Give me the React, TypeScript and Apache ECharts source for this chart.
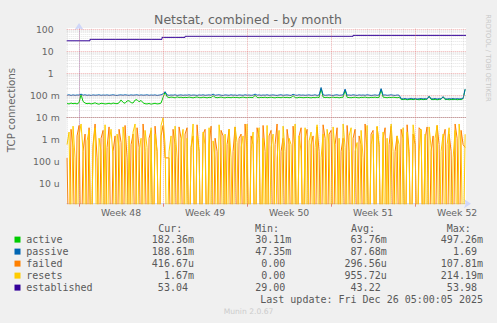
import React, { useEffect, useRef } from 'react';
import * as echarts from 'echarts';

// sampling: x in days since Mon 24 Nov (start of Week 48), one sample every 4 h
const X0 = -1;
const STEP = 1 / 6;
const X_MIN = -1.03;
const X_MAX = 32.24;

// active connections (milli)
const activeM = [
  42, 40, 44, 41, 43, 40, 46, 108, 52, 44, 41, 43, 40, 42, 45, 41, 39, 43, 42, 40,
  41, 43, 40, 44, 42, 41, 45, 61, 47, 43, 55, 56, 46, 44, 60, 62, 50, 58, 45, 41,
  40, 42, 39, 41, 43, 40, 41, 44, 80, 140, 85, 78, 82, 80, 76, 84, 79, 81, 77, 80,
  78, 82, 79, 76, 80, 83, 78, 77, 81, 79, 76, 80, 78, 95, 80, 77, 79, 82, 78, 76,
  80, 79, 77, 81, 78, 80, 76, 79, 82, 78, 77, 80, 79, 78, 100, 79, 77, 80, 78, 81,
  77, 79, 81, 78, 76, 80, 79, 77, 82, 78, 80, 77, 79, 95, 78, 76, 80, 79, 77, 78,
  80, 78, 76, 79, 77, 81, 78, 200, 82, 78, 80, 77, 79, 82, 78, 80, 76, 79, 81, 170,
  80, 78, 77, 79, 81, 78, 76, 80, 79, 82, 78, 77, 80, 79, 81, 78, 80, 180, 82, 79,
  77, 80, 78, 81, 79, 77, 80, 65, 63, 66, 62, 64, 65, 63, 66, 64, 62, 65, 63, 64,
  66, 88, 64, 63, 65, 62, 64, 66, 84, 63, 65, 62, 64, 63, 66, 62, 64, 63, 70, 182,
];

// passive connections (milli)
const passiveM = [
  100, 104, 98, 103, 99, 102, 101, 112, 100, 104, 99, 102, 98, 103, 100, 101, 104, 99, 102, 100,
  103, 99, 101, 104, 100, 98, 102, 103, 100, 104, 101, 99, 103, 100, 102, 104, 99, 103, 100, 101,
  104, 99, 102, 100, 103, 98, 101, 104, 115, 145, 103, 99, 102, 100, 104, 98, 101, 103, 99, 102,
  100, 104, 99, 102, 101, 98, 103, 100, 104, 99, 101, 103, 100, 112, 99, 102, 104, 100, 98, 103,
  101, 99, 104, 100, 102, 98, 103, 101, 99, 104, 100, 102, 99, 101, 112, 100, 103, 99, 102, 100,
  104, 99, 101, 103, 100, 98, 102, 104, 99, 101, 103, 100, 98, 110, 101, 99, 104, 100, 102, 99,
  101, 103, 99, 100, 104, 98, 102, 224, 104, 99, 101, 103, 100, 98, 102, 104, 99, 101, 103, 190,
  100, 102, 99, 104, 101, 98, 103, 100, 102, 99, 104, 101, 98, 100, 103, 99, 102, 200, 100, 103,
  99, 101, 104, 100, 98, 102, 100, 70, 68, 71, 67, 69, 72, 68, 70, 67, 69, 71, 68, 70,
  67, 90, 69, 68, 71, 67, 70, 68, 86, 69, 67, 70, 68, 71, 67, 70, 68, 69, 72, 189,
];

// failed connections (micro)
const failedU = [
  140, 0, 2800, 420, 0, 1400, 4200, 0, 280, 1700, 0, 3300, 0, 560, 4900, 140, 0, 1100, 2500, 0,
  420, 3600, 0, 280, 1400, 0, 2800, 700, 0, 4200, 140, 0, 560, 1700, 0, 3300, 420, 0, 4900, 280,
  0, 1100, 2500, 0, 3900, 280, 0, 1400, 4200, 140, 140, 140, 0, 2800, 560, 0, 3600, 1100, 0, 1700,
  3300, 0, 420, 1400, 0, 4500, 280, 0, 1700, 2800, 0, 560, 3900, 0, 1100, 280, 0, 2500, 1400, 0,
  560, 2800, 0, 280, 3600, 0, 1100, 1700, 0, 4900, 280, 0, 1400, 560, 0, 3300, 1100, 0, 4200, 280,
  0, 1400, 2500, 0, 560, 4900, 0, 280, 1100, 0, 2800, 560, 0, 3900, 280, 0, 1400, 3300, 0, 1100,
  2800, 0, 560, 1400, 0, 3600, 280, 0, 4500, 1100, 0, 1700, 2500, 0, 560, 3300, 0, 280, 1100, 0,
  4200, 280, 0, 1100, 2800, 0, 1400, 560, 0, 4900, 280, 0, 1700, 2500, 0, 3600, 560, 0, 1100, 3300,
  0, 560, 3900, 0, 280, 1400, 0, 2800, 1100, 0, 4500, 280, 0, 1700, 560, 0, 3300, 2500, 0, 1100,
  3600, 0, 280, 1400, 0, 4200, 560, 0, 1100, 2800, 0, 1700, 280, 0, 4900, 1100, 0, 2500, 560, 417,
];

// connection resets (micro)
const resetsU = [
  560, 2100, 0, 3900, 140, 0, 1400, 4900, 280, 0, 830, 2500, 0, 420, 3300, 0, 1100, 280, 0, 4500,
  0, 700, 2800, 140, 0, 1700, 420, 0, 3600, 560, 0, 1400, 0, 2100, 4900, 0, 280, 1100, 0, 2500,
  420, 0, 3300, 0, 1700, 280, 0, 4200, 9500, 560, 0, 280, 1400, 0, 3900, 140, 0, 700, 2800, 0,
  1100, 0, 420, 4900, 0, 1400, 280, 0, 2100, 560, 0, 3300, 0, 830, 140, 0, 4500, 420, 0, 1700,
  0, 2800, 140, 0, 3600, 700, 0, 420, 1400, 0, 4900, 0, 280, 2100, 0, 560, 3300, 0, 1100, 0,
  4200, 0, 420, 1700, 0, 140, 2500, 0, 3900, 280, 0, 1100, 560, 0, 4900, 0, 1400, 280, 0, 3300,
  0, 830, 2100, 0, 420, 4500, 0, 140, 1700, 0, 2800, 560, 0, 3600, 280, 0, 1100, 0, 4900, 420,
  0, 1400, 3300, 0, 280, 700, 0, 2500, 140, 0, 4200, 0, 560, 1700, 0, 3900, 420, 0, 2100, 0,
  1100, 0, 4900, 280, 0, 1400, 560, 0, 3300, 0, 2100, 140, 0, 4500, 700, 0, 280, 2800, 0, 1700,
  0, 3600, 420, 0, 1100, 4200, 0, 280, 1700, 0, 560, 3300, 0, 140, 2500, 0, 4900, 420, 0, 1670,
];

// established connections: level changes (day, value)
const estDays = [X_MIN, 0.91, 6.91, 8.83, 22.83, X_MAX];
const estValues = [30, 35, 43, 48, 53, 53];

// axis texts
const weekCenters = [3.5, 10.5, 17.5, 24.5, 31.5];
const weekLabels = ['Week 48', 'Week 49', 'Week 50', 'Week 51', 'Week 52'];
const weekStarts = [0, 7, 14, 21, 28];
const decadeValues = [1e-5, 1e-4, 1e-3, 1e-2, 1e-1, 1, 10, 100];
const decadeLabels = ['10 u', '100 u', '1 m', '10 m', '100 m', '1', '10', '100'];

// legend
const legendNames = ['active', 'passive', 'failed', 'resets', 'established'];
const legendColors = ['#00CC00', '#0066B3', '#FF8000', '#FFCC00', '#330099'];
const curText = ['182.36m', '188.61m', '416.67u', '1.67m', '53.04'];
const minText = ['30.11m', '47.35m', '0.00', '0.00', '29.00'];
const avgText = ['63.76m', '87.68m', '296.56u', '955.72u', '43.22'];
const maxText = ['497.26m', '1.69', '107.81m', '214.19m', '53.98'];

const FLOOR = 1e-9; // stand-in for zero on the log axis (drawn below the plot, clipped)

export default function App() {
  const ref = useRef<HTMLDivElement>(null);

  useEffect(() => {
    const chart = echarts.init(ref.current!, null, { renderer: 'svg' });

    const pts = (arr: number[], scale: number) =>
      arr.map((v, i) => [X0 + i * STEP, v === 0 ? FLOOR : v * scale]);

    const Y_MIN = Math.pow(10, -5.94);
    const Y_MAX = Math.pow(10, 2.06);

    const minorGrid = 'rgba(150,150,150,0.26)';
    const majorGrid = 'rgba(225,110,110,0.55)';
    const gridLines: any[] = [];
    for (let d = -1; d <= 32; d++) {
      if (weekStarts.indexOf(d) >= 0) continue;
      gridLines.push({ xAxis: d, lineStyle: { color: minorGrid, type: 'dotted', width: 1 } });
    }
    for (let k = -6; k <= 1; k++) {
      for (let m = 2; m <= 9; m++) {
        const v = m * Math.pow(10, k);
        if (v > Y_MIN && v < Y_MAX) {
          gridLines.push({ yAxis: v, lineStyle: { color: minorGrid, type: 'dotted', width: 1 } });
        }
      }
    }
    weekStarts.forEach((d) =>
      gridLines.push({ xAxis: d, lineStyle: { color: majorGrid, type: 'dotted', width: 1 } })
    );
    decadeValues.forEach((v) =>
      gridLines.push({ yAxis: v, lineStyle: { color: majorGrid, type: 'dotted', width: 1 } })
    );

    const font = 'DejaVu Sans';
    const mono = 'DejaVu Sans Mono';
    const textColor = '#666666';
    const legendColor = '#595959';

    const graphics: any[] = [];
    const txt = (x: number, y: number, text: string, opts: any = {}) => ({
      type: 'text',
      x,
      y,
      rotation: opts.rotation || 0,
      silent: true,
      style: {
        text,
        fill: opts.fill || legendColor,
        fontSize: opts.fontSize || 10,
        fontFamily: opts.fontFamily || mono,
        align: opts.align || 'left',
        textAlign: opts.align || 'left',
        verticalAlign: 'middle',
        textVerticalAlign: 'middle',
      },
    });

    graphics.push(txt(248, 19, 'Netstat, combined - by month', { fontSize: 12.5, fontFamily: font, fill: textColor, align: 'center' }));
    graphics.push(txt(11, 110, 'TCP connections', { fontSize: 10.3, fontFamily: font, fill: textColor, align: 'center', rotation: Math.PI / 2 }));
    graphics.push(txt(488, 58, 'RRDTOOL / TOBI OETIKER', { fontSize: 6.8, fontFamily: font, fill: '#C8C8C8', align: 'center', rotation: -Math.PI / 2 }));
    graphics.push(txt(248.5, 311.5, 'Munin 2.0.67', { fontSize: 7.6, fontFamily: font, fill: '#CCCCCC', align: 'center' }));

    const headerY = 228.3;
    graphics.push(txt(158.3, headerY, 'Cur:'));
    graphics.push(txt(255, headerY, 'Min:'));
    graphics.push(txt(351, headerY, 'Avg:'));
    graphics.push(txt(446.7, headerY, 'Max:'));
    const colRight = [194, 291.3, 386.7, 483];
    const cols = [curText, minText, avgText, maxText];
    legendNames.forEach((name, r) => {
      const y = 239.6 + r * 12;
      graphics.push({
        type: 'rect',
        silent: true,
        shape: { x: 14.5, y: y - 3, width: 6, height: 6 },
        style: { fill: legendColors[r] },
      });
      graphics.push(txt(26.3, y, name));
      cols.forEach((col, c) => {
        const s = col[r];
        const unitless = /[0-9]$/.test(s);
        graphics.push(txt(colRight[c] - (unitless ? 6.02 : 0), y, s, { align: 'right' }));
      });
    });
    graphics.push(txt(483, 299.7, 'Last update: Fri Dec 26 05:00:05 2025', { align: 'right' }));

    const lineSeries = (name: string, color: string, data: any[], extra: any = {}) => ({
      name,
      type: 'line',
      data,
      showSymbol: false,
      symbol: 'none',
      z: 3,
      clip: true,
      lineStyle: { color, width: 1 },
      itemStyle: { color },
      emphasis: { disabled: true },
      silent: true,
      ...extra,
    });

    const option: any = {
      animation: false,
      backgroundColor: '#F0F0F0',
      grid: {
        left: 66.7,
        top: 28,
        width: 399.3,
        height: 175.7,
        show: true,
        backgroundColor: '#FFFFFF',
        borderWidth: 0,
        containLabel: false,
        outerBoundsMode: 'none',
      },
      xAxis: {
        type: 'value',
        min: X_MIN,
        max: X_MAX,
        axisLine: {
          show: true,
          onZero: false,
          lineStyle: { color: '#CFD6F8', width: 1 },
          symbol: ['none', 'arrow'],
          symbolSize: [7, 7],
          symbolOffset: [0, 5],
        },
        axisTick: {
          show: true,
          customValues: weekStarts,
          length: 3,
          lineStyle: { color: '#E08080', width: 1 },
        },
        axisLabel: {
          customValues: weekCenters,
          formatter: (v: number) => {
            const i = weekCenters.findIndex((c) => Math.abs(c - v) < 1e-6);
            return i >= 0 ? weekLabels[i] : '';
          },
          color: textColor,
          fontSize: 9.3,
          fontFamily: font,
          margin: 4,
        },
        splitLine: { show: false },
      },
      yAxis: {
        type: 'log',
        logBase: 10,
        min: Y_MIN,
        max: Y_MAX,
        axisLine: {
          show: true,
          lineStyle: { color: '#CFD6F8', width: 1 },
          symbol: ['none', 'arrow'],
          symbolSize: [7, 7],
          symbolOffset: [0, 5],
        },
        axisTick: { show: false },
        axisLabel: {
          customValues: decadeValues,
          formatter: (v: number) => {
            const i = decadeValues.findIndex((d) => Math.abs(Math.log10(d) - Math.log10(v)) < 1e-6);
            if (i < 0) return '';
            const s = decadeLabels[i];
            return /[0-9]$/.test(s) ? '{p|' + s + '}' : s;
          },
          rich: {
            p: { padding: [0, 6, 0, 0], color: textColor, fontSize: 9.3, fontFamily: font },
          },
          color: textColor,
          fontSize: 9.3,
          fontFamily: font,
          margin: 7,
        },
        splitLine: { show: false },
        minorSplitLine: { show: false },
      },
      series: [
        {
          type: 'line',
          name: 'grid',
          data: [[X_MIN, FLOOR]],
          showSymbol: false,
          symbol: 'none',
          lineStyle: { opacity: 0 },
          z: 1,
          silent: true,
          markLine: {
            silent: true,
            symbol: ['none', 'none'],
            label: { show: false },
            emphasis: { disabled: true },
            animation: false,
            lineStyle: { type: 'dotted', width: 1 },
            data: gridLines,
          },
        },
        lineSeries('active', legendColors[0], pts(activeM, 1e-3)),
        lineSeries('passive', legendColors[1], pts(passiveM, 1e-3)),
        lineSeries('failed', legendColors[2], pts(failedU, 1e-6)),
        lineSeries('resets', legendColors[3], pts(resetsU, 1e-6)),
        lineSeries('established', legendColors[4], estDays.map((d, i) => [d, estValues[i]]), { step: 'end' }),
      ],
      graphic: graphics,
    };

    chart.setOption(option);
    return () => chart.dispose();
  }, []);

  return (
    <div
      ref={ref}
      style={{ position: 'fixed', left: 0, top: 0, width: 497, height: 323, background: '#F0F0F0' }}
    />
  );
}
